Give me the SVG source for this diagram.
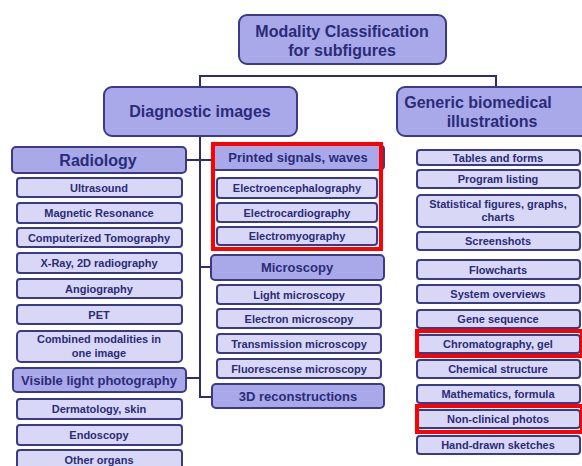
<svg xmlns="http://www.w3.org/2000/svg" width="582" height="466" viewBox="0 0 582 466">
<style>
.h rect{fill:#a9a9ea;stroke:#3a3a86;stroke-width:2}
.s rect{fill:#d8d8f6;stroke:#3a3a86;stroke-width:2}
text{font-family:"Liberation Sans",Arial,sans-serif;font-weight:bold;fill:#2b2b78;text-anchor:middle;dominant-baseline:central}
.big{font-size:16px}
.mid{font-size:13px}
.sm{font-size:11px}
.hl{fill:none;stroke:#ff0000;stroke-width:4}
#connectors path{fill:none;stroke:#2e2e6e;stroke-width:2}
</style>
<rect width="582" height="466" fill="#ffffff"/>
<g id="connectors">
<path d="M200,88 V76 H496 V88"/>
<path d="M200,136 V397 H212"/>
<path d="M186,160 H213"/>
<path d="M200,267 H212"/>
<path d="M186,378 H200"/>
</g>
<g id="title" class="h"><rect x="239" y="15" width="207" height="49" rx="8"/><text class="big" x="342" y="31">Modality Classification</text><text class="big" x="342" y="50">for subfigures</text></g>
<g id="diagnostic" class="h"><rect x="104" y="87" width="193" height="49" rx="8"/><text class="big" x="200" y="111">Diagnostic images</text></g>
<g id="generic" class="h"><rect x="397" y="87" width="200" height="49" rx="8"/><text class="big" x="478" y="102">Generic biomedical</text><text class="big" x="492" y="121">illustrations</text></g>

<g id="radiology" class="h"><rect x="12" y="147" width="174" height="26" rx="4"/><text class="big" x="98" y="160">Radiology</text></g>
<g id="ultrasound" class="s"><rect x="17" y="178" width="165" height="19" rx="3"/><text class="sm" x="99" y="187.5">Ultrasound</text></g>
<g id="mr" class="s"><rect x="17" y="203" width="165" height="20" rx="3"/><text class="sm" x="99" y="213">Magnetic Resonance</text></g>
<g id="ct" class="s"><rect x="17" y="228" width="165" height="19" rx="3"/><text class="sm" x="99" y="237.5">Computerized Tomography</text></g>
<g id="xray" class="s"><rect x="17" y="253" width="165" height="20" rx="3"/><text class="sm" x="99" y="263">X-Ray, 2D radiography</text></g>
<g id="angio" class="s"><rect x="17" y="279" width="165" height="19" rx="3"/><text class="sm" x="99" y="288.5">Angiography</text></g>
<g id="pet" class="s"><rect x="17" y="305" width="165" height="19" rx="3"/><text class="sm" x="99" y="314.5">PET</text></g>
<g id="combined" class="s"><rect x="17" y="331" width="165" height="31" rx="4"/><text class="sm" x="99" y="339">Combined modalities in</text><text class="sm" x="99" y="353">one image</text></g>
<g id="visible" class="h"><rect x="13" y="368" width="173" height="24" rx="4"/><text class="mid" x="99" y="380">Visible light photography</text></g>
<g id="derma" class="s"><rect x="17" y="399" width="165" height="20" rx="3"/><text class="sm" x="99" y="409">Dermatology, skin</text></g>
<g id="endo" class="s"><rect x="17" y="425" width="165" height="20" rx="3"/><text class="sm" x="99" y="435">Endoscopy</text></g>
<g id="other" class="s"><rect x="17" y="450" width="165" height="22" rx="3"/><text class="sm" x="99" y="460">Other organs</text></g>

<g id="printed" class="h"><rect x="212" y="145" width="172" height="25" rx="4"/><text class="mid" x="298" y="157.5">Printed signals, waves</text></g>
<g id="eeg" class="s"><rect x="217" y="178" width="160" height="20" rx="3"/><text class="sm" x="297" y="188">Electroencephalography</text></g>
<g id="ecg" class="s"><rect x="217" y="203" width="160" height="19" rx="3"/><text class="sm" x="297" y="212.5">Electrocardiography</text></g>
<g id="emg" class="s"><rect x="217" y="227" width="160" height="18" rx="3"/><text class="sm" x="297" y="236">Electromyography</text></g>
<g id="microscopy" class="h"><rect x="211" y="255" width="173" height="25" rx="4"/><text class="mid" x="297" y="267.5">Microscopy</text></g>
<g id="light" class="s"><rect x="217" y="285" width="164" height="19" rx="3"/><text class="sm" x="299" y="294.5">Light microscopy</text></g>
<g id="electron" class="s"><rect x="217" y="309" width="164" height="19" rx="3"/><text class="sm" x="299" y="318.5">Electron microscopy</text></g>
<g id="transmission" class="s"><rect x="217" y="334" width="164" height="19" rx="3"/><text class="sm" x="299" y="343.5">Transmission microscopy</text></g>
<g id="fluor" class="s"><rect x="217" y="359" width="164" height="19" rx="3"/><text class="sm" x="299" y="368.5">Fluorescense microscopy</text></g>
<g id="recon" class="h"><rect x="212" y="384" width="172" height="24" rx="4"/><text class="mid" x="298" y="396">3D reconstructions</text></g>

<g id="tables" class="s"><rect x="417" y="150" width="163" height="15" rx="3"/><text class="sm" x="498" y="157.5">Tables and forms</text></g>
<g id="program" class="s"><rect x="417" y="170" width="163" height="18" rx="3"/><text class="sm" x="498" y="179">Program listing</text></g>
<g id="stat" class="s"><rect x="417" y="195" width="163" height="32" rx="4"/><text class="sm" x="498" y="204">Statistical figures, graphs,</text><text class="sm" x="498" y="217">charts</text></g>
<g id="screens" class="s"><rect x="417" y="232" width="163" height="18" rx="3"/><text class="sm" x="498" y="241">Screenshots</text></g>
<g id="flow" class="s"><rect x="417" y="260" width="163" height="19" rx="3"/><text class="sm" x="498" y="269.5">Flowcharts</text></g>
<g id="sysov" class="s"><rect x="417" y="285" width="163" height="18" rx="3"/><text class="sm" x="498" y="294">System overviews</text></g>
<g id="gene" class="s"><rect x="417" y="310" width="163" height="18" rx="3"/><text class="sm" x="498" y="319">Gene sequence</text></g>
<g id="chrom" class="s"><rect x="417" y="335" width="163" height="18" rx="3"/><text class="sm" x="498" y="344">Chromatography, gel</text></g>
<g id="chem" class="s"><rect x="417" y="360" width="163" height="18" rx="3"/><text class="sm" x="498" y="369">Chemical structure</text></g>
<g id="math" class="s"><rect x="417" y="385" width="163" height="18" rx="3"/><text class="sm" x="498" y="394">Mathematics, formula</text></g>
<g id="nonclin" class="s"><rect x="417" y="410" width="163" height="18" rx="3"/><text class="sm" x="498" y="419">Non-clinical photos</text></g>
<g id="hand" class="s"><rect x="417" y="436" width="163" height="18" rx="3"/><text class="sm" x="498" y="445">Hand-drawn sketches</text></g>

<g id="highlights">
<rect class="hl" x="213" y="144" width="168" height="105"/>
<rect class="hl" x="417" y="331" width="165" height="25"/>
<rect class="hl" x="417" y="406" width="165" height="26"/>
</g>
</svg>
